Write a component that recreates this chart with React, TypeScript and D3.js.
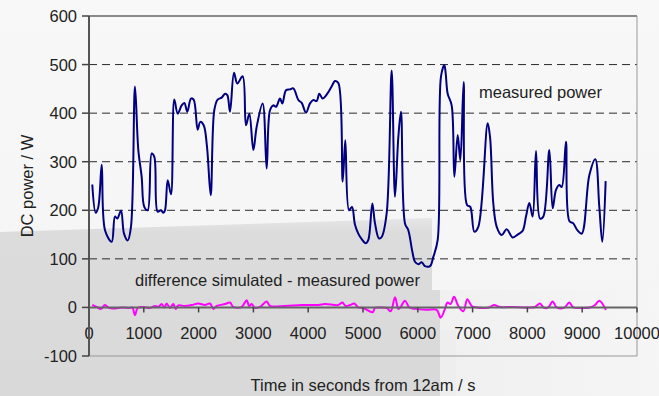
import React from 'react';
import * as d3 from 'd3';

// measured DC power, seconds from 12am / W
const measuredTime = [60, 122, 170, 232, 292, 414, 474, 516, 584, 639, 706, 766, 839, 900, 961, 1009, 1071, 1144, 1192, 1253, 1314, 1356, 1387, 1436, 1496, 1557, 1618, 1691, 1740, 1794, 1861, 1910, 1983, 2031, 2093, 2153, 2221, 2286, 2347, 2420, 2482, 2524, 2573, 2646, 2707, 2804, 2865, 2926, 2999, 3060, 3169, 3242, 3303, 3363, 3412, 3485, 3528, 3595, 3668, 3729, 3820, 3881, 3960, 4033, 4094, 4155, 4203, 4264, 4349, 4428, 4489, 4550, 4629, 4677, 4745, 4799, 4854, 4914, 4980, 5049, 5097, 5170, 5219, 5292, 5341, 5432, 5523, 5584, 5645, 5693, 5766, 5827, 5900, 5949, 6010, 6071, 6131, 6222, 6283, 6363, 6423, 6484, 6509, 6545, 6618, 6667, 6728, 6776, 6837, 6898, 6958, 7031, 7104, 7275, 7318, 7378, 7440, 7531, 7622, 7731, 7834, 7914, 7974, 8035, 8096, 8157, 8230, 8290, 8400, 8461, 8522, 8582, 8626, 8704, 8765, 8838, 8911, 8991, 9130, 9239, 9312, 9367, 9428];
const measuredPower = [253, 195, 207, 294, 159, 135, 187, 183, 199, 152, 138, 166, 455, 324, 269, 207, 200, 317, 310, 197, 200, 195, 200, 262, 233, 428, 399, 416, 421, 403, 430, 428, 366, 382, 375, 331, 231, 406, 428, 432, 440, 437, 403, 483, 461, 476, 375, 399, 324, 372, 420, 286, 406, 416, 413, 430, 420, 447, 449, 451, 427, 421, 401, 420, 427, 425, 440, 430, 440, 455, 466, 462, 259, 344, 200, 207, 170, 152, 140, 132, 139, 214, 173, 142, 145, 194, 488, 228, 351, 403, 173, 159, 115, 94, 89, 93, 85, 85, 104, 139, 475, 499, 482, 440, 416, 269, 355, 303, 464, 211, 207, 156, 166, 379, 351, 214, 166, 149, 161, 144, 151, 158, 187, 215, 187, 322, 183, 187, 324, 204, 242, 252, 248, 341, 178, 173, 159, 152, 272, 305, 207, 135, 260];

// difference simulated - measured power / W
const diffTime = [60, 140, 219, 292, 365, 474, 596, 748, 790, 839, 888, 991, 1113, 1204, 1265, 1326, 1374, 1417, 1478, 1538, 1582, 1630, 1752, 1874, 1995, 2117, 2208, 2269, 2330, 2482, 2573, 2634, 2786, 2878, 2920, 2969, 3029, 3120, 3242, 3303, 3577, 3881, 4185, 4307, 4550, 4623, 4684, 4763, 4841, 4914, 5005, 5177, 5219, 5310, 5432, 5505, 5584, 5645, 5687, 5766, 5845, 5949, 6162, 6344, 6417, 6496, 6539, 6600, 6661, 6740, 6831, 6904, 6983, 7074, 7226, 7304, 7390, 7500, 7743, 7987, 8139, 8230, 8303, 8382, 8461, 8534, 8668, 8765, 8838, 9009, 9142, 9234, 9312, 9434];
const diffPower = [5, 1, -3, 5, -1, -2, 0, -1, 0, -16, -1, 1, -1, 3, 1, 7, 0, 8, -1, 7, -3, 4, 3, 5, 8, 5, 8, -3, 3, 7, 10, 1, 1, 15, 3, 7, -1, 1, 12, 3, 3, 5, 5, 7, 5, 10, 3, 5, 8, 0, -1, -10, -1, 0, -1, -8, 21, -3, 1, 14, 0, -3, -5, -5, -21, -3, 10, 7, 22, 3, -8, 17, 3, 0, -1, 0, 5, 1, 1, 0, 1, 8, -1, 0, 12, 0, -1, 10, 0, -1, 0, 5, 14, -5];

const xTicks = [0, 1000, 2000, 3000, 4000, 5000, 6000, 7000, 8000, 9000, 10000];
const yTicks = [-100, 0, 100, 200, 300, 400, 500, 600];
const gridValues = [100, 200, 300, 400, 500];

const W = 659;
const H = 396;
const margin = { top: 16, right: 22, bottom: 40, left: 89 };
const font = '"Liberation Sans", Arial, sans-serif';
const fs = 16.5;

export default function App() {
  const x = d3.scaleLinear().domain([0, 10000]).range([margin.left, W - margin.right]);
  const y = d3.scaleLinear().domain([-100, 600]).range([H - margin.bottom, margin.top]);

  const line = d3.line<[number, number]>()
    .x(d => x(d[0]))
    .y(d => y(d[1]))
    .curve(d3.curveCatmullRom.alpha(0.5));

  const measured = measuredTime.map((t, i) => [t, measuredPower[i]] as [number, number]);
  const diff = diffTime.map((t, i) => [t, diffPower[i]] as [number, number]);

  const x0 = x(0);
  const x1 = x(10000);
  const yTop = y(600);
  const yBot = y(-100);
  const yZero = y(0);

  return (
    <svg width={W} height={H} style={{ position: 'absolute', left: 0, top: 0 }}>
      <defs>
        <linearGradient id="bgTop" x1="0" y1="0" x2="0" y2="1">
          <stop offset="0" stopColor="#f8f8f8" />
          <stop offset="1" stopColor="#f4f4f4" />
        </linearGradient>
        <linearGradient id="grayEdge" x1="0" y1="0" x2="0" y2="1">
          <stop offset="0" stopColor="#e6e6e6" />
          <stop offset="0.08" stopColor="#dcdcdc" />
          <stop offset="1" stopColor="#d9d9d9" />
        </linearGradient>
        <linearGradient id="rightFade" x1="0" y1="0" x2="1" y2="0">
          <stop offset="0" stopColor="#ececec" />
          <stop offset="1" stopColor="#f6f6f6" />
        </linearGradient>
      </defs>

      {/* faded photo background */}
      <rect x={0} y={0} width={W} height={H} fill="url(#bgTop)" />
      <polygon points={`0,232 432,218 432,290 440,290 440,${H} 0,${H}`} fill="url(#grayEdge)" />
      <rect x={440} y={290} width={W - 440} height={H - 290} fill="url(#rightFade)" opacity={0.5} />
      <rect x={440} y={330} width={16} height={H - 330} fill="#ececec" opacity={0.7} />

      {/* grid */}
      {gridValues.map(v => (
        <line key={v} x1={x0} x2={x1} y1={y(v)} y2={y(v)} stroke="#2a2a2a" strokeWidth={1} strokeDasharray="8,5" />
      ))}

      {/* plot frame */}
      <line x1={x0} x2={x1} y1={yTop} y2={yTop} stroke="#666" strokeWidth={1.5} />
      <line x1={x1} x2={x1} y1={yTop} y2={yBot} stroke="#999" strokeWidth={1} />
      <line x1={x0} x2={x1} y1={yBot} y2={yBot} stroke="#999" strokeWidth={1} />

      {/* lines */}
      <path d={line(measured) || ''} fill="none" stroke="#000080" strokeWidth={2} strokeLinejoin="round" />
      <path d={line(diff) || ''} fill="none" stroke="#ff00ff" strokeWidth={2} strokeLinejoin="round" />

      {/* x axis at zero */}
      <line x1={x0} x2={x1} y1={yZero} y2={yZero} stroke="#666" strokeWidth={2} />
      {xTicks.map(t => (
        <line key={t} x1={x(t)} x2={x(t)} y1={yZero} y2={yZero + 5} stroke="#444" strokeWidth={1.5} />
      ))}
      {xTicks.map(t => (
        <text key={t} x={x(t)} y={339} textAnchor="middle" fontFamily={font} fontSize={fs} fill="#222">{t}</text>
      ))}

      {/* y axis */}
      <line x1={x0} x2={x0} y1={yTop} y2={yBot} stroke="#555" strokeWidth={2} />
      {yTicks.map(v => (
        <line key={v} x1={x0 - 7} x2={x0} y1={y(v)} y2={y(v)} stroke="#444" strokeWidth={1.5} />
      ))}
      {yTicks.map(v => (
        <text key={v} x={77} y={y(v)} dy="0.36em" textAnchor="end" fontFamily={font} fontSize={fs} fill="#222">{v}</text>
      ))}

      {/* labels */}
      <text x={(x0 + x1) / 2} y={391} textAnchor="middle" fontFamily={font} fontSize={fs} fill="#222">Time in seconds from 12am / s</text>
      <text transform={`translate(33,${(yTop + yBot) / 2}) rotate(-90)`} textAnchor="middle" fontFamily={font} fontSize={fs} fill="#222">DC power / W</text>
      <text x={479} y={98} fontFamily={font} fontSize={fs} fill="#222">measured power</text>
      <text x={135} y={286} fontFamily={font} fontSize={fs} fill="#222">difference simulated - measured power</text>
    </svg>
  );
}
